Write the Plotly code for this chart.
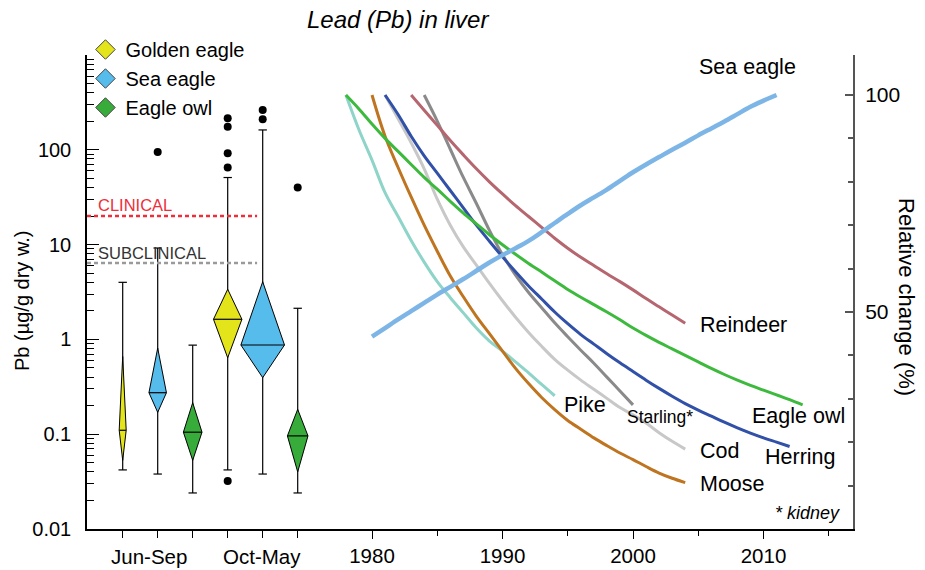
import plotly.graph_objects as go

# ---------------- Left panel data (Pb in liver, µg/g dry w.) ----------------
box_species = ["Golden eagle", "Sea eagle", "Eagle owl", "Golden eagle", "Sea eagle", "Eagle owl"]
box_season = ["Jun-Sep", "Jun-Sep", "Jun-Sep", "Oct-May", "Oct-May", "Oct-May"]
box_pos = [1, 2, 3, 4, 5, 6]
whisk_lo = [0.042, 0.038, 0.024, 0.042, 0.038, 0.024]
whisk_hi = [4.0, 9.2, 0.87, 51, 162, 2.13]
q1 = [0.053, 0.17, 0.053, 0.64, 0.395, 0.040]
median = [0.11, 0.274, 0.105, 1.63, 0.873, 0.096]
q3 = [0.66, 0.81, 0.215, 3.38, 4.06, 0.183]
half_width = [0.10, 0.25, 0.266, 0.406, 0.623, 0.294]   # relative sample size
outliers = [[], [95], [], [215, 175, 92, 65, 0.032], [263, 210], [40]]
clinical = 20
subclinical = 6.4

species_colors = {"Golden eagle": "#E3E41A", "Sea eagle": "#56BCEC", "Eagle owl": "#38AC3A"}

# ---------------- Right panel data (relative change, %) ----------------
pike_years = list(range(1978, 1995))
pike = [100, 92, 85, 77.5, 72, 66.5, 61.5, 57, 53.3, 49.8, 46.3, 43.3, 41, 38.5, 36, 33.3, 30.7]

moose_years = list(range(1980, 2005))
moose = [100, 90.5, 83.3, 76.5, 70, 64, 58.3, 53.5, 49, 45, 41, 37, 33.5, 30.3, 27.5, 25,
         23, 21, 19.2, 17.5, 16, 14.4, 12.9, 11.7, 10.7]

herring_years = list(range(1981, 2013))
herring = [100, 95.5, 90.5, 86, 82, 78, 74, 70, 66.3, 62.7, 59.3, 56, 53, 50, 47.3, 44.8,
           42.6, 40.4, 38.3, 36.3, 34.3, 32.4, 30.6, 28.9, 27.4, 26, 24.6, 23.3, 22.1, 21, 20, 19]

cod_years = list(range(1981, 2005))
cod = [100, 94.5, 89, 83, 76, 70, 65, 60.8, 56.6, 52.6, 48.8, 45.3, 42.1, 39.1, 36.6, 34.3,
       32.2, 30.1, 28, 26.3, 24.4, 22.2, 20.2, 18.4]

starling_years = list(range(1984, 2001))
starling = [100, 94, 87.5, 81, 75, 68.8, 63.2, 58.5, 54.5, 51, 47.5, 44.3, 41.2, 38.2, 35, 31.8, 28.6]

reindeer_years = list(range(1983, 2005))
reindeer = [100, 96.5, 93, 89.5, 86.2, 83, 80, 77.2, 74.5, 72, 69.5, 67, 64.7, 62.6, 60.7, 58.8,
            57, 55.1, 53.1, 51.2, 49.3, 47.4]

owl_years = list(range(1978, 2014))
owl = [100, 96.8, 93.3, 90, 87, 84, 81, 78.3, 75.5, 72.8, 70.3, 67.8, 65.5, 63.3, 61.2,
       59.2, 57.2, 55.2, 53.4, 51.7, 50, 48.2, 46.3, 44.6, 43, 41.5, 40, 38.5, 37, 35.6,
       34.3, 33.1, 32, 30.9, 29.8, 28.6]

sea_years = list(range(1980, 2012))
sea = [44.3, 46.3, 48.3, 50.2, 52.1, 54, 55.8, 57.6, 59.5, 61.4, 63.1, 64.7, 66.4, 68.4,
       70.5, 72.6, 74.6, 76.4, 78.2, 80.2, 82.2, 84, 85.7, 87.4, 89, 90.7, 92.3, 93.9,
       95.6, 97.3, 98.7, 100]

trend_series = [
    ("Pike", pike_years, pike, "#8ED4C8", 3),
    ("Moose", moose_years, moose, "#BF7420", 3),
    ("Cod", cod_years, cod, "#C8C8C8", 3),
    ("Starling*", starling_years, starling, "#8A8A8A", 3),
    ("Herring", herring_years, herring, "#3150A8", 3),
    ("Reindeer", reindeer_years, reindeer, "#B5666F", 3),
    ("Eagle owl", owl_years, owl, "#3DBA3D", 3),
    ("Sea eagle", sea_years, sea, "#7DB6E6", 4.5),
]

FONT = "Liberation Sans, Arial, sans-serif"
W, H = 925, 570
L, R, T, B = 87, 72, 55, 41
PW, PH = W - L - R, H - T - B


def px(x):
    return (x - L) / PW


def py(y):
    return (H - B - y) / PH


split = px(330)

fig = go.Figure()

# ---- left panel: whiskers, diamonds, medians, outliers ----
cap = 0.12
for i in range(len(box_pos)):
    x = box_pos[i]
    col = species_colors[box_species[i]]
    fig.add_trace(go.Scatter(
        x=[x, x, None, x - cap, x + cap, None, x - cap, x + cap],
        y=[whisk_lo[i], whisk_hi[i], None, whisk_lo[i], whisk_lo[i], None, whisk_hi[i], whisk_hi[i]],
        mode="lines", line=dict(color="black", width=1.2), showlegend=False,
        hoverinfo="skip", xaxis="x", yaxis="y"))
    w = half_width[i]
    fig.add_trace(go.Scatter(
        x=[x, x + w, x, x - w, x], y=[q3[i], median[i], q1[i], median[i], q3[i]],
        mode="lines", fill="toself", fillcolor=col, line=dict(color="black", width=1),
        showlegend=False, name=box_species[i] + " " + box_season[i], xaxis="x", yaxis="y"))
    fig.add_trace(go.Scatter(
        x=[x - w, x + w], y=[median[i], median[i]], mode="lines",
        line=dict(color="black", width=1.2), showlegend=False, hoverinfo="skip",
        xaxis="x", yaxis="y"))
    if outliers[i]:
        fig.add_trace(go.Scatter(
            x=[x] * len(outliers[i]), y=outliers[i], mode="markers",
            marker=dict(color="black", size=8), showlegend=False, xaxis="x", yaxis="y"))

# legend entries
for sp in ["Golden eagle", "Sea eagle", "Eagle owl"]:
    fig.add_trace(go.Scatter(
        x=[None], y=[None], mode="markers", name=sp,
        marker=dict(symbol="diamond", size=15, color=species_colors[sp],
                    line=dict(color="#444", width=1)),
        xaxis="x", yaxis="y"))

# ---- right panel: trend lines ----
for name, yrs, vals, col, lw in trend_series:
    fig.add_trace(go.Scatter(
        x=yrs, y=vals, mode="lines", name=name,
        line=dict(color=col, width=lw, shape="spline", smoothing=1.0),
        showlegend=False, xaxis="x2", yaxis="y2"))

# threshold lines
fig.add_shape(type="line", xref="x domain", yref="y", x0=0, x1=0.70, y0=clinical, y1=clinical,
              line=dict(color="#EE2E3A", width=2.5, dash="4px,3px"))
fig.add_shape(type="line", xref="x domain", yref="y", x0=0, x1=0.70, y0=subclinical, y1=subclinical,
              line=dict(color="#9A9A9A", width=2.5, dash="4px,3px"))

ann = []


def text(x, y, s, size=21.5, xanchor="left", color="black", angle=0, italic=False):
    ann.append(dict(x=px(x), y=py(y), xref="paper", yref="paper", text=s, showarrow=False,
                    xanchor=xanchor, yanchor="middle", textangle=angle,
                    font=dict(family=FONT, size=size, color=color,
                              style="italic" if italic else "normal")))


text(398, 20, "Lead (Pb) in liver", size=24, xanchor="center", italic=True)
text(96, 205, "CLINICAL", size=16.5, color="#EE2E3A")
text(96, 253, "SUBCLINICAL", size=16.5, color="#333333")
text(22, 301, "Pb (µg/g dry w.)", size=20, xanchor="center", angle=-90)
text(907, 297, "Relative change (%)", size=22, xanchor="center", angle=90)
text(149, 556, "Jun-Sep", size=20.5, xanchor="center")
text(262, 556, "Oct-May", size=20.5, xanchor="center")
text(747, 67, "Sea eagle", xanchor="center")
text(698, 325, "Reindeer")
text(750, 416, "Eagle owl")
text(763, 457, "Herring")
text(698, 451, "Cod")
text(698, 484, "Moose")
text(625, 417, "Starling*", size=17.5)
text(562, 405, "Pike")
text(842, 513, "* kidney", size=18, xanchor="right", italic=True)

fig.update_layout(
    width=W, height=H, margin=dict(l=L, r=R, t=T, b=B, autoexpand=False),
    paper_bgcolor="white", plot_bgcolor="white",
    font=dict(family=FONT, size=20, color="black"),
    annotations=ann,
    legend=dict(x=-0.002, y=py(30), xanchor="left", yanchor="top", bgcolor="rgba(0,0,0,0)",
                font=dict(family=FONT, size=20, color="black"), tracegroupgap=0),
    xaxis=dict(domain=[0, split], range=[-0.02, -0.02 + 243 / 35], showline=True, automargin=False,
               linecolor="black", linewidth=1.5, ticks="outside", ticklen=7, tickwidth=1.2,
               tickcolor="black", tickvals=box_pos, ticktext=[""] * 6, showgrid=False,
               zeroline=False, fixedrange=True),
    yaxis=dict(type="log", range=[-2, 3], domain=[0, 1], anchor="x", showline=True, automargin=False,
               linecolor="black", linewidth=1.5, ticks="inside", ticklen=12, tickwidth=1.2,
               tickcolor="black", tickvals=[0.01, 0.1, 1, 10, 100, 1000],
               ticktext=["0.01", "0.1", "1", "10", "100", ""], ticklabelstandoff=10,
               minor=dict(ticks="inside", ticklen=7, tickcolor="black", tickwidth=1, dtick="D1"),
               showgrid=False, zeroline=False, tickfont=dict(size=20)),
    xaxis2=dict(domain=[split, 1], range=[1980 - 42 / 13.05, 1980 + 481 / 13.05], anchor="y2",
                showline=True, linecolor="black", linewidth=1.5, ticks="outside", ticklen=8,
                automargin=False,
                tickwidth=1.2, tickcolor="black", tick0=1980, dtick=10, ticklabelstandoff=0,
                minor=dict(ticks="outside", ticklen=5, tickcolor="black", dtick=5),
                showgrid=False, zeroline=False, tickfont=dict(size=20.5)),
    yaxis2=dict(range=[0, PH / 4.34], domain=[0, 1], anchor="x2", side="right", showline=True,
                automargin=False,
                linecolor="#555555", linewidth=2, ticks="inside", ticklen=8, tickwidth=1.5,
                tickcolor="#555555", tickvals=[50, 100],
                minor=dict(ticks="inside", ticklen=5, tickcolor="#555555", dtick=10),
                showgrid=False, zeroline=False, tickfont=dict(size=21), ticklabelstandoff=6),
)

fig.write_html("out.html")
